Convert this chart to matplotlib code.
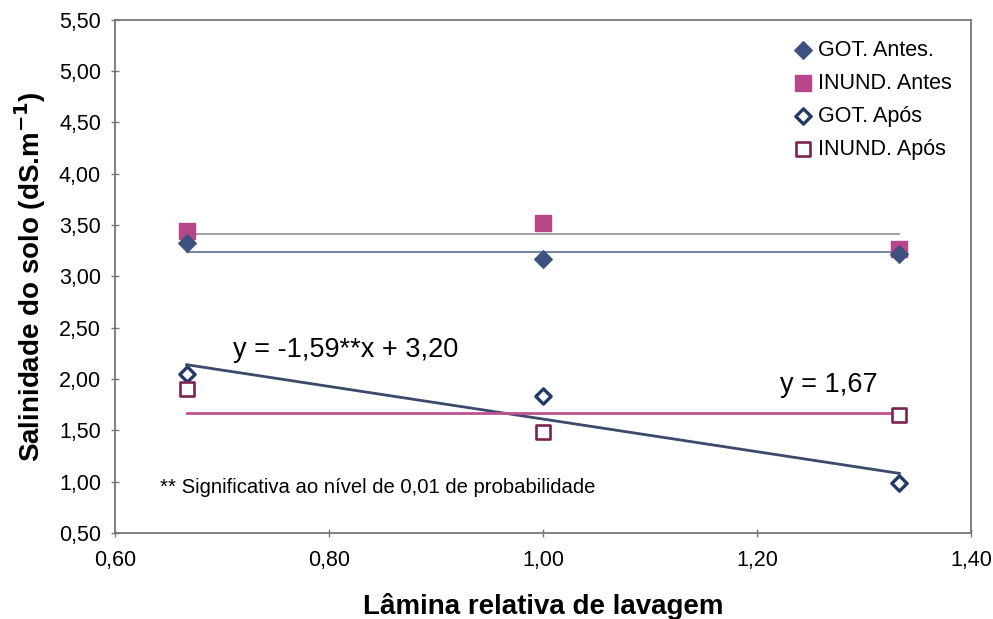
import matplotlib
matplotlib.use("Agg")
import matplotlib.pyplot as plt
import numpy as np
from matplotlib.ticker import FuncFormatter

plt.rcParams['font.family'] = ['Liberation Sans', 'DejaVu Sans']

# Relative leaching depth
lamina = [0.667, 1.000, 1.333]

# Soil salinity (dS/m)
got_antes = [3.33, 3.17, 3.22]
inund_antes = [3.44, 3.52, 3.27]
got_apos = [2.05, 1.83, 0.99]
inund_apos = [1.90, 1.48, 1.65]

# Fitted models
got_apos_slope = -1.59
got_apos_intercept = 3.20
inund_apos_mean = 1.67

navy = '#3d5080'
magenta = '#b8478a'
dark_magenta = '#7a2452'

fig = plt.figure(figsize=(9.93, 6.19), dpi=100)
ax = fig.add_axes([0.1158, 0.139, 0.862, 0.829])

xl = np.array([lamina[0], lamina[-1]])
ax.plot(xl, [np.mean(inund_antes)] * 2, color='#9a9aa6', lw=1.3, zorder=2)
ax.plot(xl, [np.mean(got_antes)] * 2, color='#6a7898', lw=1.3, zorder=2)
ax.plot(xl, got_apos_intercept + got_apos_slope * xl, color='#3c4a6c', lw=2.0, zorder=2)
ax.plot(xl, [inund_apos_mean] * 2, color='#c0508f', lw=2.0, zorder=2)

ax.scatter(lamina, got_antes, marker='D', s=80, color=navy, zorder=4, label='GOT. Antes.')
ax.scatter(lamina, inund_antes, marker='s', s=130, color=magenta, zorder=3, label='INUND. Antes')
ax.scatter(lamina, got_apos, marker='D', s=60, facecolor='white', edgecolor='#233a66',
           linewidth=2.4, zorder=4, label='GOT. Após')
ax.scatter(lamina, inund_apos, marker='s', s=105, facecolor='white', edgecolor=dark_magenta,
           linewidth=1.9, zorder=4, label='INUND. Após')

ax.set_xlim(0.6, 1.4)
ax.set_ylim(0.5, 5.5)
ax.set_xticks(np.arange(0.6, 1.41, 0.2))
ax.set_yticks(np.arange(0.5, 5.51, 0.5))
fmt = FuncFormatter(lambda v, p: f"{v:.2f}".replace('.', ','))
ax.xaxis.set_major_formatter(fmt)
ax.yaxis.set_major_formatter(fmt)
ax.tick_params(axis='both', direction='inout', length=6, width=1, color='#777777',
               labelsize=15.5)
ax.tick_params(axis='x', pad=9)
ax.tick_params(axis='y', pad=7)
for s in ax.spines.values():
    s.set_color('#777777')
    s.set_linewidth(1.3)

ax.set_xlabel('Lâmina relativa de lavagem', fontsize=20, fontweight='bold', labelpad=16)
ax.set_ylabel('Salinidade do solo (dS.m$^{\\mathbf{-1}}$)', fontsize=20, fontweight='bold',
              labelpad=8)

ax.text(0.710, 2.28, 'y = -1,59**x + 3,20', fontsize=19.5, va='center')
ax.text(1.2215, 1.94, 'y = 1,67', fontsize=19.5, va='center')
ax.text(0.642, 0.94, '** Significativa ao nível de 0,01 de probabilidade', fontsize=14.6,
        va='center')

leg = ax.legend(loc='upper right', bbox_to_anchor=(0.995, 0.99), frameon=False,
                fontsize=15.5, handletextpad=0.0, labelspacing=0.55, borderaxespad=0.3,
                scatterpoints=1, handlelength=1.4)

fig.savefig('out.png', dpi=100, facecolor='white')
